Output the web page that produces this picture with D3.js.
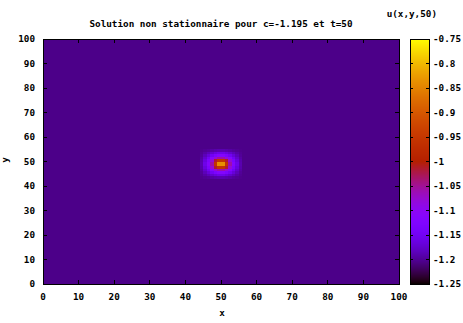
<!DOCTYPE html>
<html><head><meta charset="utf-8">
<script src="https://cdn.jsdelivr.net/npm/d3@7"></script>
<style>
html,body{margin:0;padding:0;background:#fff;}
svg{display:block;}
text{font-family:"DejaVu Sans Mono",monospace;font-weight:bold;font-size:9.3px;fill:#000;}
</style></head>
<body>
<script>
// ---- data ----
const titleText = "Solution non stationnaire pour c=-1.195 et t=50";
const keyText = "u(x,y,50)";
const xLabel = "x";
const yLabel = "y";
const xTicks = [0,10,20,30,40,50,60,70,80,90,100];
const yTicks = [0,10,20,30,40,50,60,70,80,90,100];
const cbTicks = [-1.25,-1.2,-1.15,-1.1,-1.05,-1,-0.95,-0.9,-0.85,-0.8,-0.75];
const cbLabels = ["-1.25","-1.2","-1.15","-1.1","-1.05","-1","-0.95","-0.9","-0.85","-0.8","-0.75"];
const cbRange = [-1.25,-0.75];
const gridMax = 100;            // grid points 0..100 in x and y
const backgroundValue = -1.205; // u far from the bump
const peakX = 50, peakY = 49;   // grid point of the bump centre
// values of u around the bump, offsets dy=-5..5 (rows), dx=-5..5 (cols)
const patch = [
 [-1.2,-1.195,-1.19,-1.18,-1.175,-1.17,-1.175,-1.18,-1.19,-1.195,-1.2],
 [-1.195,-1.185,-1.17,-1.16,-1.145,-1.14,-1.145,-1.16,-1.17,-1.185,-1.195],
 [-1.19,-1.17,-1.15,-1.12,-1.10,-1.09,-1.10,-1.12,-1.15,-1.17,-1.19],
 [-1.18,-1.16,-1.12,-1.07,-1.03,-1.01,-1.03,-1.07,-1.12,-1.16,-1.18],
 [-1.175,-1.145,-1.10,-1.03,-0.93,-0.86,-0.93,-1.03,-1.10,-1.145,-1.175],
 [-1.17,-1.14,-1.09,-1.01,-0.86,-0.70,-0.86,-1.01,-1.09,-1.14,-1.17],
 [-1.175,-1.145,-1.10,-1.03,-0.93,-0.86,-0.93,-1.03,-1.10,-1.145,-1.175],
 [-1.18,-1.16,-1.12,-1.07,-1.03,-1.01,-1.03,-1.07,-1.12,-1.16,-1.18],
 [-1.19,-1.17,-1.15,-1.12,-1.10,-1.09,-1.10,-1.12,-1.15,-1.17,-1.19],
 [-1.195,-1.185,-1.17,-1.16,-1.145,-1.14,-1.145,-1.16,-1.17,-1.185,-1.195],
 [-1.2,-1.195,-1.19,-1.18,-1.175,-1.17,-1.175,-1.18,-1.19,-1.195,-1.2]
];

// ---- layout ----
const W = 463, H = 323;
const plot = {left:43, right:399, top:39, bottom:284};
const cb = {left:410, right:429, top:39, bottom:284};

const svg = d3.select("body").append("svg").attr("width",W).attr("height",H);

const x = d3.scaleLinear().domain([0,gridMax]).range([plot.left, plot.right]);
const y = d3.scaleLinear().domain([0,gridMax]).range([plot.bottom, plot.top]);

// gnuplot rgbformulae 7,5,15
function pal(t){
  t = Math.max(0, Math.min(1, t));
  const r = Math.sqrt(t), g = t*t*t, b = Math.max(0, Math.sin(2*Math.PI*t));
  return d3.rgb(r*255, g*255, b*255).toString();
}
const cnorm = d3.scaleLinear().domain(cbRange).range([0,1]);
const color = v => pal(cnorm(v));

// build grid values
const half = (patch.length-1)/2;
function u(i,j){
  const dx = i-peakX, dy = j-peakY;
  if (Math.abs(dx) <= half && Math.abs(dy) <= half) return patch[dy+half][dx+half];
  return backgroundValue;
}
const quads = [];
for (let i=0;i<gridMax;i++) for (let j=0;j<gridMax;j++){
  quads.push({i, j, v:(u(i,j)+u(i+1,j)+u(i,j+1)+u(i+1,j+1))/4});
}
svg.append("g").attr("shape-rendering","crispEdges")
 .selectAll("rect").data(quads).join("rect")
 .attr("x", d=>x(d.i)).attr("y", d=>y(d.j+1))
 .attr("width", d=>x(d.i+1)-x(d.i)).attr("height", d=>y(d.j)-y(d.j+1))
 .attr("fill", d=>color(d.v));

// border
const tl = 4;
const g = svg.append("g").attr("shape-rendering","crispEdges").attr("stroke","#000").attr("stroke-width",1);
g.append("rect").attr("x",plot.left).attr("y",plot.top)
 .attr("width",plot.right-plot.left).attr("height",plot.bottom-plot.top).attr("fill","none");
xTicks.forEach(t=>{
  g.append("line").attr("x1",x(t)).attr("x2",x(t)).attr("y1",plot.bottom).attr("y2",plot.bottom-tl);
  g.append("line").attr("x1",x(t)).attr("x2",x(t)).attr("y1",plot.top).attr("y2",plot.top+tl);
});
yTicks.forEach(t=>{
  g.append("line").attr("x1",plot.left).attr("x2",plot.left+tl).attr("y1",y(t)).attr("y2",y(t));
  g.append("line").attr("x1",plot.right).attr("x2",plot.right-tl).attr("y1",y(t)).attr("y2",y(t));
});

// tick labels
svg.append("g").selectAll("text").data(xTicks).join("text")
 .attr("x", d=>x(d)).attr("y", 300).attr("text-anchor","middle").text(d=>d);
svg.append("g").selectAll("text").data(yTicks).join("text")
 .attr("x", 35).attr("y", d=>y(d)+3.3).attr("text-anchor","end").text(d=>d);

// axis labels and title
svg.append("text").attr("x", 222).attr("y", 316).attr("text-anchor","middle").text(xLabel);
svg.append("text").attr("transform","translate(8,160) rotate(-90)").attr("text-anchor","middle").text(yLabel);
svg.append("text").attr("x", 221).attr("y", 27).attr("text-anchor","middle").text(titleText);
svg.append("text").attr("x", 437).attr("y", 17).attr("text-anchor","end").text(keyText);

// colorbar
const cy = d3.scaleLinear().domain(cbRange).range([cb.bottom, cb.top]);
const steps = d3.range(cb.top, cb.bottom);
svg.append("g").attr("shape-rendering","crispEdges")
 .selectAll("rect").data(steps).join("rect")
 .attr("x", cb.left).attr("y", d=>d).attr("width", cb.right-cb.left).attr("height", 1)
 .attr("fill", d=>color(cy.invert(d+0.5)));
const gc = svg.append("g").attr("shape-rendering","crispEdges").attr("stroke","#000").attr("stroke-width",1);
gc.append("rect").attr("x",cb.left).attr("y",cb.top).attr("width",cb.right-cb.left)
 .attr("height",cb.bottom-cb.top).attr("fill","none");
cbTicks.forEach(t=>{
  gc.append("line").attr("x1",cb.left).attr("x2",cb.left+3).attr("y1",cy(t)).attr("y2",cy(t));
  gc.append("line").attr("x1",cb.right).attr("x2",cb.right-3).attr("y1",cy(t)).attr("y2",cy(t));
});
svg.append("g").selectAll("text").data(cbTicks).join("text")
 .attr("x", 433).attr("y", d=>cy(d)+3.3).attr("text-anchor","start")
 .text((d,i)=>cbLabels[i]);
</script>
</body></html>
